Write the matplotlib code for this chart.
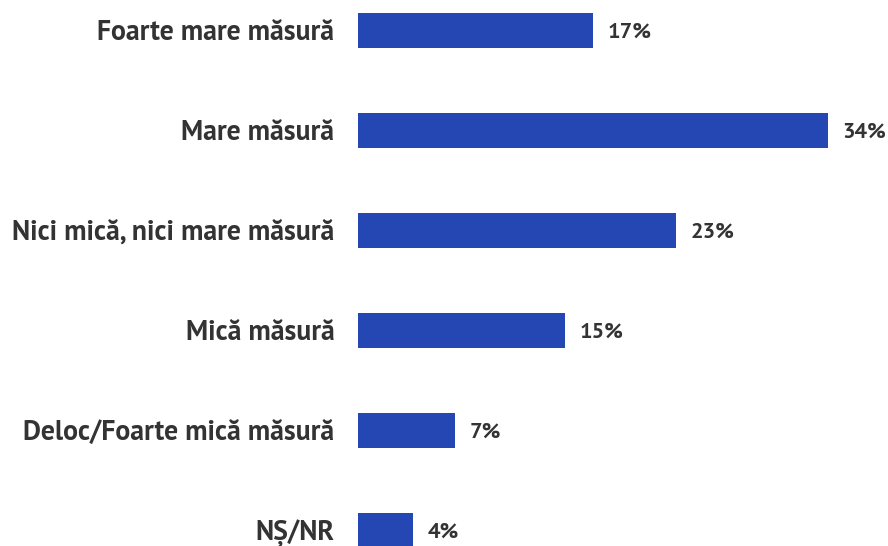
import matplotlib
matplotlib.use("Agg")
import matplotlib.pyplot as plt

categories = ["Foarte mare măsură", "Mare măsură", "Nici mică, nici mare măsură",
              "Mică măsură", "Deloc/Foarte mică măsură", "NȘ/NR"]
values = [17, 34, 23, 15, 7, 4]
value_labels = ["17%", "34%", "23%", "15%", "7%", "4%"]

bar_color = "#2447b3"
text_color = "#333333"
font = ["PT Sans", "DejaVu Sans"]

fig = plt.figure(figsize=(8.88, 5.46), dpi=100)
ax = fig.add_axes([358 / 888, 0, 530 / 888, 1])

pos = list(range(len(categories)))
ax.barh(pos, values, height=0.35, color=bar_color)

ax.set_xlim(0, 38.35)
ax.set_ylim(5.155, -0.305)

# value labels next to the bars
for p, v, lab in zip(pos, values, value_labels):
    ax.text(v + 1.05, p + 0.02, lab, va="center", ha="left", fontsize=16,
            fontweight="bold", color=text_color, family=font)

ax.set_yticks(pos)
ax.set_yticklabels(categories, fontsize=20, fontweight="bold", color=text_color,
                   family=font)
ax.tick_params(axis="y", length=0, pad=17)
ax.set_xticks([])
for s in ax.spines.values():
    s.set_visible(False)

fig.savefig("out.png", dpi=100)
